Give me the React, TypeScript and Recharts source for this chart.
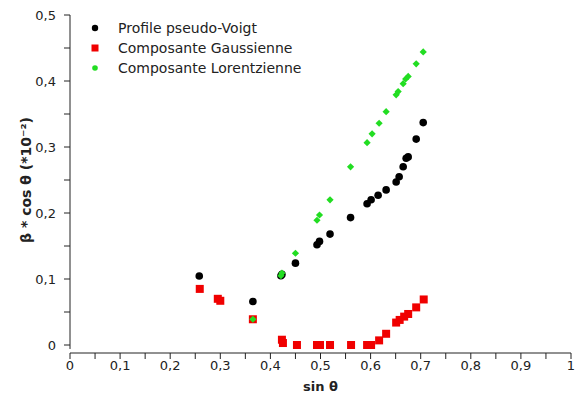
import React from 'react';
import {
  ScatterChart,
  Scatter,
  XAxis,
  YAxis,
  Legend,
  ReferenceLine,
} from 'recharts';

// ---- Data ----
const voigtSin = [0.258, 0.365, 0.421, 0.423, 0.45, 0.493, 0.498, 0.519, 0.56, 0.593, 0.601, 0.615, 0.631, 0.651, 0.657, 0.665, 0.671, 0.675, 0.691, 0.705];
const voigtBeta = [0.1045, 0.066, 0.105, 0.107, 0.124, 0.152, 0.157, 0.168, 0.193, 0.214, 0.22, 0.227, 0.235, 0.247, 0.255, 0.27, 0.283, 0.285, 0.312, 0.337];

const gaussSin = [0.259, 0.295, 0.3, 0.365, 0.423, 0.425, 0.453, 0.493, 0.499, 0.519, 0.561, 0.593, 0.601, 0.617, 0.631, 0.651, 0.658, 0.667, 0.675, 0.691, 0.706];
const gaussBeta = [0.085, 0.07, 0.067, 0.039, 0.008, 0.003, 0, 0, 0, 0, 0, 0, 0, 0.007, 0.017, 0.034, 0.038, 0.043, 0.047, 0.057, 0.069];

const lorentzSin = [0.365, 0.421, 0.423, 0.45, 0.493, 0.498, 0.519, 0.56, 0.593, 0.603, 0.617, 0.631, 0.651, 0.655, 0.665, 0.67, 0.675, 0.691, 0.705];
const lorentzBeta = [0.039, 0.105, 0.109, 0.139, 0.189, 0.197, 0.22, 0.27, 0.3065, 0.32, 0.336, 0.3535, 0.379, 0.384, 0.396, 0.403, 0.407, 0.426, 0.444];

const seriesNames = ['Profile pseudo-Voigt', 'Composante Gaussienne', 'Composante Lorentzienne'];
const xTicks = [0, 0.05, 0.1, 0.15, 0.2, 0.25, 0.3, 0.35, 0.4, 0.45, 0.5, 0.55, 0.6, 0.65, 0.7, 0.75, 0.8, 0.85, 0.9, 0.95, 1];
const yTicks = [0, 0.05, 0.1, 0.15, 0.2, 0.25, 0.3, 0.35, 0.4, 0.45, 0.5];
const xTitle = 'sin θ';
const yTitle = 'β * cos θ (*10⁻²)';

const toPoints = (xs: number[], ys: number[]) => xs.map((x, i) => ({ x, y: ys[i] }));
const voigtData = toPoints(voigtSin, voigtBeta);
const gaussData = toPoints(gaussSin, gaussBeta);
const lorentzData = toPoints(lorentzSin, lorentzBeta);

const BLACK = '#000000';
const RED = '#f00000';
const GREEN = '#22dd22';
const FONT = '"DejaVu Sans", Verdana, sans-serif';
const TEXT = '#222222';

const isMajor = (v: number) => Math.abs(Math.round(v * 10) - v * 10) < 1e-6;
const fmt = (v: number) => {
  const r = Math.round(v * 10) / 10;
  return String(r).replace('.', ',');
};

const XTick = (props: any) => {
  const { x, y, payload } = props;
  if (!isMajor(payload.value)) return null;
  return (
    <text x={x} y={y} dy="0.71em" textAnchor="middle" fill={TEXT} fontSize={13} fontFamily={FONT}>
      {fmt(payload.value)}
    </text>
  );
};

const YTick = (props: any) => {
  const { x, y, payload } = props;
  if (!isMajor(payload.value)) return null;
  return (
    <text x={x} y={y} dy="0.36em" textAnchor="end" fill={TEXT} fontSize={13} fontFamily={FONT}>
      {fmt(payload.value)}
    </text>
  );
};

const CircleShape = (props: any) => <circle cx={props.cx} cy={props.cy} r={3.8} fill={BLACK} />;
const SquareShape = (props: any) => (
  <rect x={props.cx - 4} y={props.cy - 4} width={8} height={8} fill={RED} />
);
const DiamondShape = (props: any) => {
  const { cx, cy } = props;
  const s = 3.6;
  return <polygon points={`${cx},${cy - s} ${cx + s},${cy} ${cx},${cy + s} ${cx - s},${cy}`} fill={GREEN} />;
};

const LegendContent = (props: any) => {
  const payload = [...(props.payload || [])].sort(
    (a: any, b: any) => seriesNames.indexOf(a.value) - seriesNames.indexOf(b.value)
  );
  return (
    <div style={{ fontFamily: FONT, fontSize: 14, color: TEXT }}>
      {payload.map((entry: any, i: number) => {
        const idx = seriesNames.indexOf(entry.value);
        return (
          <div key={i} style={{ display: 'flex', alignItems: 'center', height: 20 }}>
            <svg width={14} height={14} style={{ marginRight: 16 }}>
              {idx === 0 && <circle cx={7} cy={7} r={3.2} fill={BLACK} />}
              {idx === 1 && <rect x={3.5} y={3.5} width={7} height={7} fill={RED} />}
              {idx === 2 && <circle cx={7} cy={7} r={2.8} fill={GREEN} />}
            </svg>
            <span>{entry.value}</span>
          </div>
        );
      })}
    </div>
  );
};

const YTitle = (props: any) => {
  const { viewBox } = props;
  const cy = viewBox.y + viewBox.height / 2 - 4;
  return (
    <text
      transform={`translate(${viewBox.x + 31}, ${cy}) rotate(-90)`}
      textAnchor="middle"
      fill={TEXT}
      fontSize={14}
      fontWeight="bold"
      fontFamily={FONT}
    >
      {yTitle}
    </text>
  );
};

const XTitle = (props: any) => {
  const { viewBox } = props;
  return (
    <text
      x={viewBox.x + viewBox.width / 2}
      y={viewBox.y + 38}
      textAnchor="middle"
      fill={TEXT}
      fontSize={13}
      fontWeight="bold"
      fontFamily={FONT}
    >
      {xTitle}
    </text>
  );
};

export default function App() {
  return (
    <div style={{ position: 'absolute', left: 0, top: 0, width: 577, height: 401, background: '#fff' }}>
      <ScatterChart
        width={577}
        height={401}
        margin={{ top: 15, right: 6, bottom: 0, left: 0 }}
        style={{ fontFamily: FONT }}
      >
        <XAxis
          type="number"
          dataKey="x"
          domain={[0, 1]}
          ticks={xTicks}
          interval={0}
          height={48}
          stroke="#222"
          tickSize={6}
          tickMargin={2}
          tick={<XTick />}
          label={<XTitle />}
          allowDataOverflow
        />
        <YAxis
          type="number"
          dataKey="y"
          domain={[-0.01212, 0.5]}
          ticks={yTicks}
          interval={0}
          width={70}
          axisLine={false}
          stroke="#222"
          tickSize={6}
          tickMargin={8}
          tick={<YTick />}
          label={<YTitle />}
          allowDataOverflow
        />
        <ReferenceLine
          segment={[
            { x: 0, y: -0.006 },
            { x: 0, y: 0.5 },
          ]}
          stroke="#222"
          ifOverflow="visible"
        />
        <Legend
          layout="vertical"
          align="center"
          verticalAlign="middle"
          content={<LegendContent />}
          wrapperStyle={{ left: 88, top: 18, width: 260 }}
        />
        <Scatter name={seriesNames[0]} data={voigtData} fill={BLACK} shape={<CircleShape />} isAnimationActive={false} />
        <Scatter name={seriesNames[1]} data={gaussData} fill={RED} shape={<SquareShape />} isAnimationActive={false} />
        <Scatter name={seriesNames[2]} data={lorentzData} fill={GREEN} shape={<DiamondShape />} isAnimationActive={false} />
      </ScatterChart>
    </div>
  );
}
